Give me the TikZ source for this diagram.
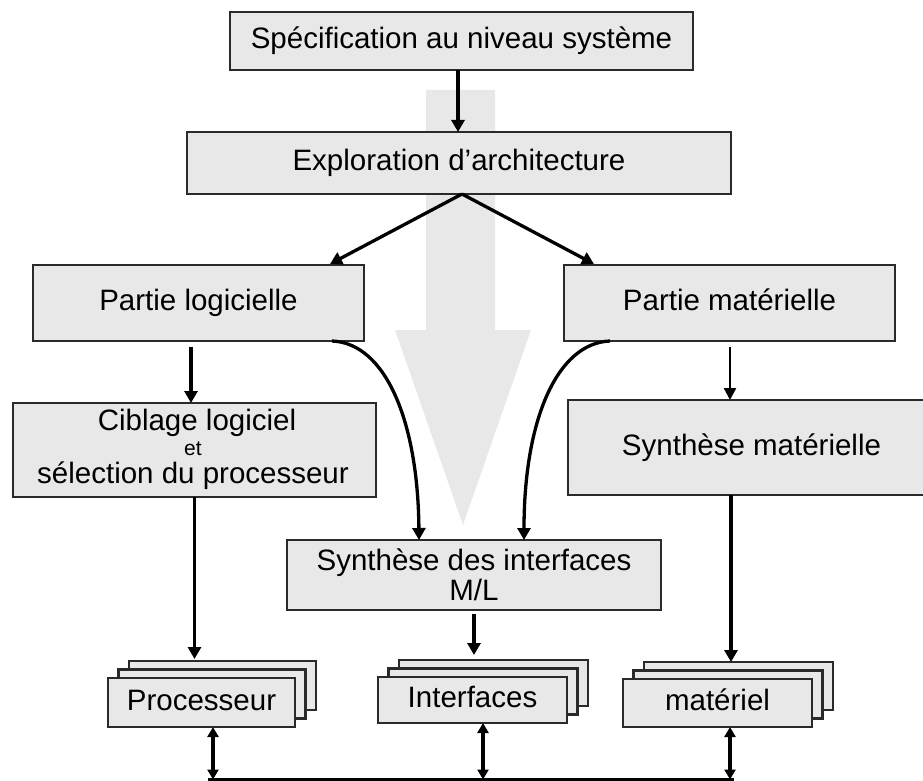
\documentclass[tikz,border=0pt]{standalone}
\usepackage{fontspec}
\setmainfont{Liberation Sans}
\usetikzlibrary{arrows.meta,calc}
\definecolor{boxfill}{HTML}{E8E8E8}
\definecolor{boxline}{HTML}{2A2A2A}
\definecolor{flowgray}{HTML}{E8E8E8}
\pgfdeclarelayer{bg}
\pgfdeclarelayer{stack}
\pgfsetlayers{bg,stack,main}

\begin{document}
\begin{tikzpicture}[x=1pt,y=-1pt,
  boxframe/.style={draw=boxline, line width=2.1pt, fill=boxfill},
  box/.style={boxframe, inner sep=0pt, outer sep=0pt,
    font=\fontsize{29.5}{34}\selectfont, text height=21pt, text depth=6pt},
  txt/.style={inner sep=0pt, anchor=base, font=\fontsize{29.5}{34}\selectfont},
  flow/.style={line width=3.3pt, -{Triangle[length=12pt,width=13pt]}},
  thinflow/.style={line width=2.4pt, -{Triangle[length=12pt,width=12pt]}},
  link/.style={line width=3.3pt, {Triangle[length=10pt,width=11pt]}-{Triangle[length=10pt,width=11pt]}},
  bus/.style={line width=3.6pt}]
\useasboundingbox (0,0) rectangle (923,781);
\clip (0,0) rectangle (923,781);

% wide grey arrow showing the overall design flow
\begin{pgfonlayer}{bg}
  \fill[flowgray] (426,90) -- (495,90) -- (495,330) -- (531,330) -- (463,525)
    -- (395,330) -- (426,330) -- cycle;
\end{pgfonlayer}

% boxes
\node[box, minimum width=463pt, minimum height=58pt] (spec) at (461.5,41) {Spécification au niveau système};
\node[box, minimum width=544pt, minimum height=62pt] (expl) at (459,163) {Exploration d’architecture};
\node[box, minimum width=331pt, minimum height=76pt] (plog) at (198.5,303) {Partie logicielle};
\node[box, minimum width=331pt, minimum height=76pt] (pmat) at (729.5,303) {Partie matérielle};

\node[box, minimum width=363pt, minimum height=94pt] (cib) at (194.5,450) {};
\node[txt] (cibA) at (197,430.5) {Ciblage logiciel};
\node[txt, font=\fontsize{21}{25}\selectfont] (cibB) at (193,455.5) {et};
\node[txt] (cibC) at (193,483) {sélection du processeur};

\node[box, minimum width=367pt, minimum height=95pt] (smat) at (751.5,447.5) {Synthèse matérielle};

\node[box, minimum width=374pt, minimum height=70pt] (sint) at (474,575) {};
\node[txt] (sintA) at (474,570) {Synthèse des interfaces};
\node[txt] (sintB) at (474,600) {M/L};

\node[box, minimum width=187pt, minimum height=49pt] (proc) at (201.5,702.5) {Processeur};
\node[box, minimum width=189pt, minimum height=46pt] (intf) at (472.5,700) {Interfaces};
\node[box, minimum width=189pt, minimum height=48pt] (mat) at (717.5,703) {matériel};

% stacked copies behind the three result boxes
\begin{pgfonlayer}{stack}
  \foreach \n in {proc,intf,mat}{
    \draw[boxframe] ($(\n.south west)+(21,-17)$) rectangle ($(\n.north east)+(21,-17)$);
    \draw[boxframe] ($(\n.south west)+(10.5,-8.5)$) rectangle ($(\n.north east)+(10.5,-8.5)$);
  }
\end{pgfonlayer}

% bus
\coordinate (busL) at (208,779.5);
\coordinate (busR) at (734,779.5);
\draw[bus] (busL) -- (busR);

% connectors
\draw[flow] ([xshift=-3.5pt]spec.south) -- ([xshift=-3.5pt]spec.south |- expl.north);
\draw[flow] ([xshift=3pt]expl.south) -- ([xshift=131.5pt,yshift=1pt]plog.north);
\draw[flow] ([xshift=3pt]expl.south) -- ([xshift=-135.5pt,yshift=1pt]pmat.north);
\draw[flow] ([xshift=-7.5pt,yshift=-6pt]plog.south) -- ([xshift=-7.5pt]plog.south |- cib.north);
\draw[thinflow] ([xshift=0.5pt,yshift=-6pt]pmat.south) -- ([xshift=0.5pt]pmat.south |- smat.north);
\draw[flow] (cib.south) -- ($(cib.south |- proc.north)+(0,-19)$);
\draw[flow] ([yshift=-4pt]sint.south) -- ($(sint.south |- intf.north)+(0,-22)$);
\draw[flow] ([xshift=-20.5pt]smat.south) -- ($([xshift=-20.5pt]smat.south |- mat.north)+(0,-17)$);

\draw[flow] ([xshift=-32pt]plog.south east) .. controls +(53,2) and +(-1,-120) .. ([xshift=-55pt]sint.north);
\draw[flow] ([xshift=46pt]pmat.south west) .. controls +(-53,2) and +(0,-120) .. ([xshift=50pt]sint.north);

\draw[link] ([xshift=11.5pt]proc.south) -- ([xshift=11.5pt]proc.south |- busL);
\draw[link] ([xshift=10.5pt]intf.south) -- ([xshift=10.5pt]intf.south |- busL);
\draw[link] ([xshift=12.5pt]mat.south) -- ([xshift=12.5pt]mat.south |- busL);
\end{tikzpicture}
\end{document}
